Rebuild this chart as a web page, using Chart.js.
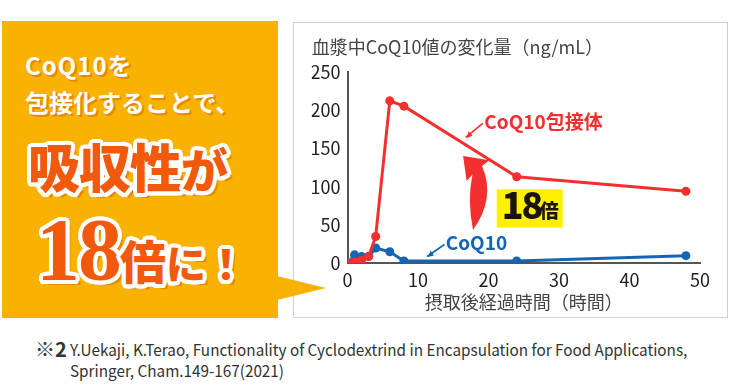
<!DOCTYPE html>
<html lang="ja">
<head>
<meta charset="utf-8">
<script src="https://cdn.jsdelivr.net/npm/chart.js@4/dist/chart.umd.min.js"></script>
<style>
body { margin:0; width:731px; height:385px; background:#fff; position:relative; overflow:hidden; font-family:'Noto Sans CJK JP', sans-serif; }
#panel { position:absolute; left:2px; top:21px; width:276px; height:297px; background:#fab200; }
#pointer { position:absolute; left:277px; top:276px; width:49px; height:24px; background:#fab200; clip-path:polygon(0 0, 100% 50%, 0 100%); z-index:3; }
#box { position:absolute; left:293px; top:22px; width:435px; height:296px; border:1px solid #cfcfcf; box-sizing:border-box; background:#fff; }
#chart { position:absolute; left:294px; top:23px; }
.w { position:absolute; left:25px; color:#fff; font-weight:bold; font-size:24px; line-height:26px; white-space:nowrap;
     text-shadow:1px 1px 0 #e58a00, 2px 2px 0 #e58a00; }
.big { position:absolute; color:#f15a0c; font-weight:900; white-space:nowrap; line-height:1; }
.note { position:absolute; left:70px; font-size:16px; color:#333; white-space:nowrap; transform:scaleX(0.955); transform-origin:0 0; }
</style>
</head>
<body>
<div id="panel"></div>
<div class="w" style="top:52px;letter-spacing:1px">CoQ10を</div>
<div class="w" style="top:89px">包接化することで、</div>
<div class="big" id="l3" style="left:28px;top:140px;font-size:52px;letter-spacing:-1px">吸収性<span style="font-size:47px">が</span></div>
<div class="big" id="l4" style="left:36px;top:206px;"><span style="font-family:'Liberation Serif',serif;font-size:88px;letter-spacing:-2px">18</span><span style="font-size:46px">倍</span><span style="font-size:40px">に！</span></div>
<div id="pointer"></div>
<div id="box"></div>
<canvas id="chart" width="434" height="294"></canvas>
<div style="position:absolute;left:35px;top:334px;font-size:20px;font-weight:bold;color:#333">※2</div>
<div class="note" style="top:337px">Y.Uekaji, K.Terao, Functionality of Cyclodextrind in Encapsulation for Food Applications,</div>
<div class="note" style="top:358px">Springer, Cham.149-167(2021)</div>
<script>
// hours after intake and plasma CoQ10 change (ng/mL)
const hours = [0, 1, 2, 3, 4, 6, 8, 24, 48];
const inclusion = [0, 2, 4, 9, 35, 212, 205, 113, 94];
const plain = [0, 11, 9, 9, 20, 15, 3, 3, 10];
const xTicks = [0, 10, 20, 30, 40, 50];
const yTicks = [0, 50, 100, 150, 200, 250];

const RED = '#f42f2f', BLUE = '#1466b4';

// white outline on the big headline text
const ring = [];
for (let a = 0; a < 360; a += 20) {
    const r = 4;
    ring.push((r*Math.cos(a*Math.PI/180)).toFixed(1)+'px '+(r*Math.sin(a*Math.PI/180)).toFixed(1)+'px 0 #fff');
}
ring.push('5px 5px 0 #e58a00');
document.getElementById('l3').style.textShadow = ring.join(',');
document.getElementById('l4').style.textShadow = ring.join(',');

function arrowLine(ctx, x1, y1, x2, y2, color) {
    ctx.strokeStyle = color; ctx.fillStyle = color; ctx.lineWidth = 1.6;
    ctx.beginPath(); ctx.moveTo(x1, y1); ctx.lineTo(x2, y2); ctx.stroke();
    const a = Math.atan2(y2 - y1, x2 - x1), h = 7;
    ctx.beginPath();
    ctx.moveTo(x2 + 1, y2 + 1 * Math.sin(a));
    ctx.lineTo(x2 - h*Math.cos(a - 0.45), y2 - h*Math.sin(a - 0.45));
    ctx.lineTo(x2 - h*Math.cos(a + 0.45), y2 - h*Math.sin(a + 0.45));
    ctx.closePath(); ctx.fill();
}

const notes = {
    id: 'notes',
    afterDatasetsDraw(chart) {
        const ctx = chart.ctx, xs = chart.scales.x, ys = chart.scales.y;
        const P = (x, y) => [xs.getPixelForValue(x), ys.getPixelForValue(y)];
        ctx.save();
        // series labels
        ctx.textBaseline = 'middle'; ctx.textAlign = 'left';
        ctx.font = 'bold 19px "Noto Sans CJK JP"';
        ctx.fillStyle = RED;
        let p = P(19.4, 185); ctx.fillText('CoQ10包接体', p[0], p[1]);
        ctx.fillStyle = BLUE;
        p = P(13.93, 27); ctx.fillText('CoQ10', p[0], p[1]);
        let a = P(19.18, 182.7), b = P(16.77, 164.4);
        arrowLine(ctx, a[0], a[1], b[0], b[1], RED);
        a = P(13.76, 24.5); b = P(11.28, 8.9);
        arrowLine(ctx, a[0], a[1], b[0], b[1], BLUE);

        // big curved arrow
        const bottom = P(17.8, 43.5), oc = P(21.06, 85.2), jr = P(19.08, 127),
              wr = P(20.1, 134.6), tip = P(16.4, 140), wl = P(16.9, 107.5),
              jl = P(17.73, 115.9), ic = P(16.95, 82.6);
        ctx.fillStyle = RED;
        ctx.beginPath();
        ctx.moveTo(bottom[0], bottom[1]);
        ctx.quadraticCurveTo(oc[0], oc[1], jr[0], jr[1]);
        ctx.lineTo(wr[0], wr[1]); ctx.lineTo(tip[0], tip[1]); ctx.lineTo(wl[0], wl[1]);
        ctx.lineTo(jl[0], jl[1]);
        ctx.quadraticCurveTo(ic[0], ic[1], bottom[0], bottom[1]);
        ctx.fill();

        // 18x badge
        const t = P(21.16, 96.6), br = P(30.52, 46.5);
        ctx.fillStyle = '#fff000';
        ctx.fillRect(t[0], t[1], br[0] - t[0], br[1] - t[1]);
        ctx.fillStyle = '#1a1311';
        ctx.textBaseline = 'alphabetic';
        ctx.font = '900 36px "Noto Sans CJK JP"';
        ctx.letterSpacing = '-2px';
        ctx.fillText('18', t[0] + 5, t[1] + 29.5);
        ctx.letterSpacing = '0px';
        ctx.font = '900 19px "Noto Sans CJK JP"';
        ctx.fillText('倍', t[0] + 43, t[1] + 28.5);
        ctx.restore();
    }
};

new Chart(document.getElementById('chart'), {
    type: 'line',
    data: {
        datasets: [
            { label: 'CoQ10包接体', data: hours.map((h, i) => ({x: h, y: inclusion[i]})),
              borderColor: RED, backgroundColor: RED, borderWidth: 3, pointRadius: 4.5, pointBorderWidth: 0, tension: 0 },
            { label: 'CoQ10', data: hours.map((h, i) => ({x: h, y: plain[i]})),
              borderColor: BLUE, backgroundColor: BLUE, borderWidth: 3, pointRadius: 4.5, pointBorderWidth: 0, tension: 0 }
        ]
    },
    options: {
        responsive: false,
        animation: false,
        devicePixelRatio: 1,
        layout: { padding: { left: 17.7, top: 0, right: 28, bottom: 0 } },
        plugins: {
            legend: { display: false },
            tooltip: { enabled: false },
            title: { display: true, text: '血漿中CoQ10値の変化量（ng/mL）', align: 'start', color: '#444',
                     font: { family: 'Noto Sans CJK JP', size: 18, weight: 'normal', lineHeight: 1.2 },
                     padding: { top: 12.9, bottom: 14.2 } }
        },
        scales: {
            x: {
                type: 'linear', min: 0, max: 50,
                afterBuildTicks: s => { s.ticks = xTicks.map(v => ({value: v})); },
                afterFit: s => { s.height = 53.7; },
                grid: { display: false, drawTicks: false },
                border: { display: true, color: '#555', width: 2 },
                ticks: { color: '#222', padding: 6, font: { family: 'Noto Sans CJK JP', size: 18 } },
                title: { display: true, text: '摂取後経過時間（時間）', color: '#444',
                         font: { family: 'Noto Sans CJK JP', size: 18 }, padding: { top: 0, bottom: 4 } }
            },
            y: {
                min: 0, max: 250,
                afterBuildTicks: s => { s.ticks = yTicks.map(v => ({value: v})); },
                afterFit: s => { s.width = 35.8; },
                grid: { display: false, drawTicks: false },
                border: { display: true, color: '#555', width: 2 },
                ticks: { color: '#222', padding: 7, font: { family: 'Noto Sans CJK JP', size: 18 } }
            }
        }
    },
    plugins: [notes]
});
</script>
</body>
</html>
